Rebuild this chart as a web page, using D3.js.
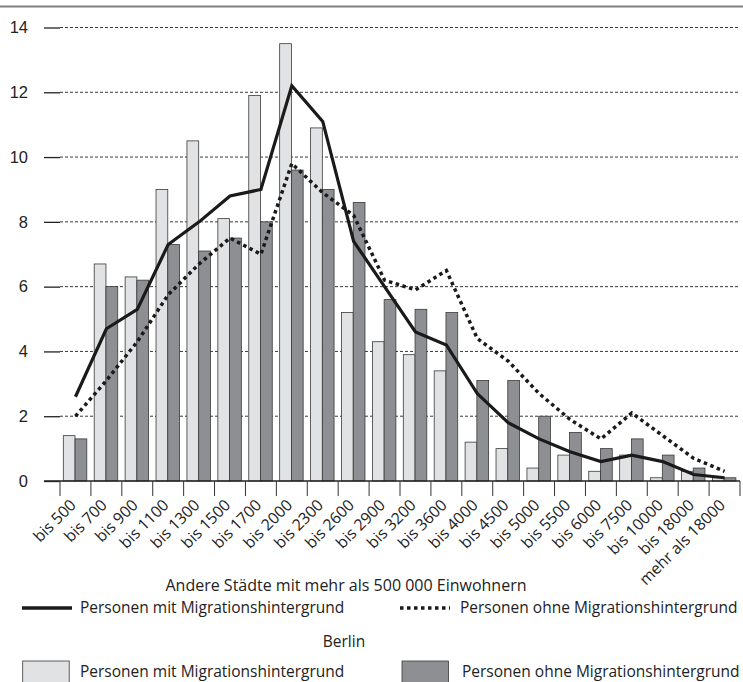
<!DOCTYPE html>
<html>
<head>
<meta charset="utf-8">
<script src="https://cdn.jsdelivr.net/npm/d3@7"></script>
<style>
  body { margin: 0; background: #fff; }
  svg { display: block; font-family: 'Open Sans', sans-serif; }
</style>
</head>
<body>
<svg id="chart"></svg>
<script>
// Data
let categories = ['bis 500', 'bis 700', 'bis 900', 'bis 1100', 'bis 1300', 'bis 1500', 'bis 1700',
  'bis 2000', 'bis 2300', 'bis 2600', 'bis 2900', 'bis 3200', 'bis 3600', 'bis 4000', 'bis 4500',
  'bis 5000', 'bis 5500', 'bis 6000', 'bis 7500', 'bis 10000', 'bis 18000', 'mehr als 18000'];

// Berlin (bars)
let berlinMit  = [1.4, 6.7, 6.3, 9.0, 10.5, 8.1, 11.9, 13.5, 10.9, 5.2, 4.3, 3.9, 3.4, 1.2, 1.0, 0.4, 0.8, 0.3, 0.8, 0.1, 0.3, 0.1];
let berlinOhne = [1.3, 6.0, 6.2, 7.3, 7.1, 7.5, 8.0, 9.6, 9.0, 8.6, 5.6, 5.3, 5.2, 3.1, 3.1, 2.0, 1.5, 1.0, 1.3, 0.8, 0.4, 0.1];

// Andere Städte (lines)
let andereMit  = [2.6, 4.7, 5.3, 7.3, 8.0, 8.8, 9.0, 12.2, 11.1, 7.4, 6.0, 4.6, 4.2, 2.7, 1.8, 1.3, 0.9, 0.6, 0.8, 0.6, 0.2, 0.1];
let andereOhne = [2.0, 3.1, 4.3, 5.75, 6.7, 7.5, 7.0, 9.8, 8.9, 8.2, 6.2, 5.9, 6.5, 4.4, 3.7, 2.7, 1.9, 1.3, 2.1, 1.4, 0.7, 0.3];

let yTicks = [0, 2, 4, 6, 8, 10, 12, 14];
let seriesKeys = ['mit', 'ohne'];

let width = 743;
let height = 682;
let lightFill = '#e1e2e4';
let darkFill = '#8e8f93';

let svg = d3.select('#chart')
  .attr('width', width)
  .attr('height', height);

// scales
let x = d3.scaleBand()
  .domain(categories)
  .range([60, 740]);

let xInner = d3.scaleBand()
  .domain(seriesKeys)
  .range([3.3, 26.8]);

let y = d3.scaleLinear()
  .domain([0, 14])
  .range([481, 27.5]);

// top rule
svg.append('line')
  .attr('x1', 0).attr('x2', width)
  .attr('y1', 6.5).attr('y2', 6.5)
  .attr('stroke', '#808080')
  .attr('stroke-width', 2);

// y axis with dashed grid
let yAxis = svg.append('g')
  .attr('transform', 'translate(60,0)')
  .call(d3.axisLeft(y).tickValues(yTicks).tickSize(16).tickPadding(16));

yAxis.select('.domain').remove();
yAxis.selectAll('.tick line')
  .attr('stroke', '#222')
  .attr('stroke-width', 1.3);
yAxis.selectAll('.tick text')
  .attr('font-size', 16.5)
  .attr('fill', '#222');

svg.append('g')
  .selectAll('line')
  .data(yTicks.filter(d => d > 0))
  .join('line')
    .attr('x1', 60).attr('x2', 740)
    .attr('y1', d => y(d)).attr('y2', d => y(d))
    .attr('stroke', '#222')
    .attr('stroke-width', 0.9)
    .attr('stroke-dasharray', '3,2');

// bars
let bars = svg.append('g')
  .selectAll('g')
  .data(categories.map((c, i) => ({ cat: c, mit: berlinMit[i], ohne: berlinOhne[i] })))
  .join('g')
    .attr('transform', d => 'translate(' + x(d.cat) + ',0)');

bars.selectAll('rect')
  .data(d => seriesKeys.map(k => ({ key: k, value: d[k] })))
  .join('rect')
    .attr('x', d => xInner(d.key))
    .attr('width', xInner.bandwidth())
    .attr('y', d => y(d.value))
    .attr('height', d => y(0) - y(d.value))
    .attr('fill', d => d.key == 'mit' ? lightFill : darkFill)
    .attr('stroke', '#3a3a3a')
    .attr('stroke-width', 0.8);

// x axis
let xAxis = svg.append('g')
  .attr('transform', 'translate(0,' + y(0) + ')');

xAxis.append('line')
  .attr('x1', 44).attr('x2', 740)
  .attr('stroke', '#222')
  .attr('stroke-width', 1.3);

let boundaries = categories.map(c => x(c)).concat([x.range()[1]]);
xAxis.selectAll('.bound')
  .data(boundaries)
  .join('line')
    .attr('class', 'bound')
    .attr('x1', d => d).attr('x2', d => d)
    .attr('y1', 0).attr('y2', 15)
    .attr('stroke', '#333')
    .attr('stroke-width', 1);

xAxis.selectAll('text')
  .data(categories)
  .join('text')
    .attr('transform', d => 'translate(' + (x(d) + x.bandwidth() / 2 + 1.5) + ',25) rotate(-45)')
    .attr('text-anchor', 'end')
    .attr('font-size', 15.8)
    .attr('fill', '#222')
    .text(d => d);

// lines
let line = d3.line()
  .x((d, i) => x(categories[i]) + x.bandwidth() / 2)
  .y(d => y(d));

svg.append('path')
  .datum(andereOhne)
  .attr('d', line)
  .attr('fill', 'none')
  .attr('stroke', '#1a1a1a')
  .attr('stroke-width', 3.5)
  .attr('stroke-dasharray', '3.5,3.5');

svg.append('path')
  .datum(andereMit)
  .attr('d', line)
  .attr('fill', 'none')
  .attr('stroke', '#1a1a1a')
  .attr('stroke-width', 3.2)
  .attr('stroke-linejoin', 'miter');

// titles and legend
let textColor = '#222';

svg.append('text')
  .attr('x', 346).attr('y', 585)
  .attr('dy', '0.35em')
  .attr('text-anchor', 'middle')
  .attr('font-size', 16)
  .attr('fill', textColor)
  .text('Andere Städte mit mehr als 500 000 Einwohnern');

svg.append('text')
  .attr('x', 344).attr('y', 642)
  .attr('dy', '0.35em')
  .attr('text-anchor', 'middle')
  .attr('font-size', 15.5)
  .attr('fill', textColor)
  .text('Berlin');

let legendLines = [
  { label: 'Personen mit Migrationshintergrund', x: 22, tx: 80, dash: null },
  { label: 'Personen ohne Migrationshintergrund', x: 400, tx: 460, dash: '3.5,3.5' }
];

let lg = svg.append('g')
  .selectAll('g')
  .data(legendLines)
  .join('g');

lg.append('line')
  .attr('x1', d => d.x).attr('x2', d => d.x + 50)
  .attr('y1', 608).attr('y2', 608)
  .attr('stroke', '#1a1a1a')
  .attr('stroke-width', 3.3)
  .attr('stroke-dasharray', d => d.dash);

lg.append('text')
  .attr('x', d => d.tx).attr('y', 608)
  .attr('dy', '0.35em')
  .attr('font-size', 15.5)
  .attr('fill', textColor)
  .text(d => d.label);

let legendBars = [
  { label: 'Personen mit Migrationshintergrund', x: 22.7, tx: 80, fill: lightFill },
  { label: 'Personen ohne Migrationshintergrund', x: 402, tx: 462, fill: darkFill }
];

let lb = svg.append('g')
  .selectAll('g')
  .data(legendBars)
  .join('g');

lb.append('rect')
  .attr('x', d => d.x).attr('y', 661)
  .attr('width', 46.5).attr('height', 30)
  .attr('fill', d => d.fill)
  .attr('stroke', '#3a3a3a')
  .attr('stroke-width', 0.8);

lb.append('text')
  .attr('x', d => d.tx).attr('y', 671.5)
  .attr('dy', '0.35em')
  .attr('font-size', 15.5)
  .attr('fill', textColor)
  .text(d => d.label);
</script>
</body>
</html>
